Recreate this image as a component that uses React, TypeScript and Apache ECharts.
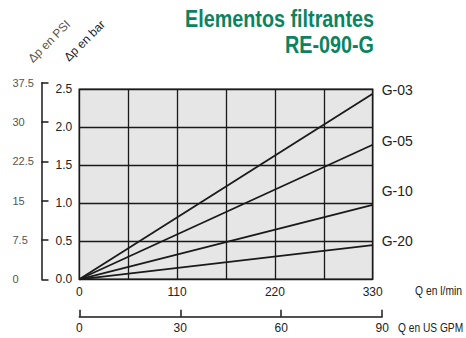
import React, { useEffect, useRef } from "react";
import * as echarts from "echarts";

const seriesNames = ["G-03", "G-05", "G-10", "G-20"];
const flowLmin = [0, 330];
const dpBar = [
  [0, 2.44],
  [0, 1.77],
  [0, 0.98],
  [0, 0.45],
];
const labelOffsets = [-4, -4, -14, -4];
const psiTicks = { min: 0, max: 37.5, interval: 7.5 };
const barTicks = { min: 0, max: 2.5, interval: 0.5 };
const lminTicks = { min: 0, max: 330, interval: 55, labelEvery: 110 };
const gpmTicks = { min: 0, max: 90, interval: 30 };
const BAR_PER_PSI = 1 / 14.5038;
const LMIN_PER_GPM = 3.78541;

const SANS = "'Liberation Sans', Arial, sans-serif";

export default function App() {
  const ref = useRef<HTMLDivElement>(null);
  useEffect(() => {
    const chart = echarts.init(ref.current!, undefined, { renderer: "svg" });
    const L = 79.3, T = 89.3, W = 293.4, H = 190;
    const psiH = (H * (psiTicks.max * BAR_PER_PSI)) / barTicks.max;
    const gpmW = (W * (gpmTicks.max * LMIN_PER_GPM)) / lminTicks.max;
    const B = T + H;
    const gridBase = { outerBoundsMode: "none", containLabel: false };

    chart.setOption({
      animation: false,
      backgroundColor: "#ffffff",
      grid: [
        { ...gridBase, left: L, top: T, width: W, height: H, show: true, backgroundColor: "#e6e6e6", borderColor: "#1a1a1a", borderWidth: 1.5 },
        { ...gridBase, left: 41.5, top: B - psiH, width: 1, height: psiH },
        { ...gridBase, left: L, top: 316.7 - 1, width: gpmW, height: 1 },
      ],
      xAxis: [
        {
          gridIndex: 0, type: "value", min: lminTicks.min, max: lminTicks.max, interval: lminTicks.interval,
          axisLine: { show: false }, axisTick: { show: false },
          splitLine: { show: true, lineStyle: { color: "#1a1a1a", width: 1.3 } },
          axisLabel: {
            margin: 7, fontSize: 12, color: "#222", fontFamily: SANS,
            formatter: (v: number) => (v % lminTicks.labelEvery === 0 ? String(v) : ""),
          },
        },
        {
          gridIndex: 2, type: "value", min: gpmTicks.min, max: gpmTicks.max, interval: gpmTicks.interval,
          axisLine: { show: true, lineStyle: { color: "#1a1a1a", width: 1.5 } },
          axisTick: { show: true, inside: true, length: 7, lineStyle: { color: "#1a1a1a", width: 1.5 } },
          splitLine: { show: false },
          axisLabel: { margin: 5, fontSize: 12, color: "#222", fontFamily: SANS },
        },
        { gridIndex: 1, type: "value", show: false },
      ],
      yAxis: [
        {
          gridIndex: 0, type: "value", min: barTicks.min, max: barTicks.max, interval: barTicks.interval,
          axisLine: { show: false }, axisTick: { show: false },
          splitLine: { show: true, lineStyle: { color: "#1a1a1a", width: 1.3 } },
          axisLabel: { margin: 7, fontSize: 12, color: "#222", fontFamily: SANS, formatter: (v: number) => v.toFixed(1), padding: [0, 0, 8, 0] },
        },
        {
          gridIndex: 1, type: "value", min: psiTicks.min, max: psiTicks.max, interval: psiTicks.interval,
          position: "left",
          axisLine: { show: true, lineStyle: { color: "#1a1a1a", width: 1.5 } },
          axisTick: { show: true, inside: true, length: 7, lineStyle: { color: "#1a1a1a", width: 1.5 } },
          splitLine: { show: false },
          axisLabel: { margin: 29, align: "left", fontSize: 11, color: "#555", fontFamily: SANS, padding: [0, 0, 14, 0] },
        },
        { gridIndex: 2, type: "value", show: false },
      ],
      series: seriesNames.map((name, i) => ({
        type: "line",
        name,
        xAxisIndex: 0,
        yAxisIndex: 0,
        symbol: "none",
        clip: false,
        lineStyle: { color: "#1a1a1a", width: 1.8 },
        endLabel: {
          show: true, distance: 9, offset: [0, labelOffsets[i]],
          formatter: name, fontSize: 14, color: "#222", fontFamily: SANS,
        },
        data: flowLmin.map((x, j) => [x, dpBar[i][j]]),
      })),
      graphic: [
        {
          type: "text", x: 374, y: 19, scaleX: 0.86,
          style: { text: "Elementos filtrantes", align: "right", verticalAlign: "middle", fontSize: 23, fontWeight: "bold", fontFamily: SANS, fill: "#0a8460" },
        },
        {
          type: "text", x: 374, y: 45.3, scaleX: 0.86,
          style: { text: "RE-090-G", align: "right", verticalAlign: "middle", fontSize: 23, fontWeight: "bold", fontFamily: SANS, fill: "#0a8460" },
        },
        {
          type: "text", x: 49.2, y: 41.3, rotation: Math.PI / 4,
          style: { text: "Δp en PSI", align: "center", verticalAlign: "middle", fontSize: 12, fontFamily: SANS, fill: "#555" },
        },
        {
          type: "text", x: 84.5, y: 40.7, rotation: Math.PI / 4,
          style: { text: "Δp en bar", align: "center", verticalAlign: "middle", fontSize: 12, fontFamily: SANS, fill: "#1a1a1a" },
        },
        {
          type: "text", x: 415, y: 291, scaleX: 0.86,
          style: { text: "Q en l/min", align: "left", verticalAlign: "middle", fontSize: 12, fontFamily: SANS, fill: "#222" },
        },
        {
          type: "text", x: 398, y: 327.5, scaleX: 0.85,
          style: { text: "Q en US GPM", align: "left", verticalAlign: "middle", fontSize: 12, fontFamily: SANS, fill: "#222" },
        },
      ],
    });
    return () => chart.dispose();
  }, []);
  return <div ref={ref} style={{ width: 466, height: 338, position: "absolute", left: 0, top: 0 }} />;
}
